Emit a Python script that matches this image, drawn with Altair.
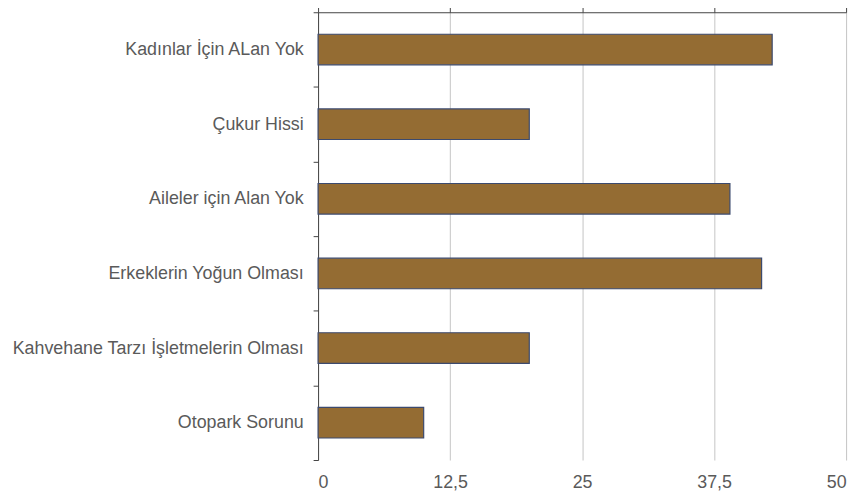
import altair as alt
import pandas as pd

categories = [
    "Kadınlar İçin ALan Yok",
    "Çukur Hissi",
    "Aileler için Alan Yok",
    "Erkeklerin Yoğun Olması",
    "Kahvehane Tarzı İşletmelerin Olması",
    "Otopark Sorunu",
]
values = [43, 20, 39, 42, 20, 10]
x_ticks = [0, 12.5, 25, 37.5, 50]

df = pd.DataFrame({"kategori": categories, "deger": values})

FONT = "Liberation Sans"
LABEL_COLOR = "#5a5a5a"

x_bottom = alt.X(
    "deger:Q",
    scale=alt.Scale(domain=[0, 50], nice=False),
    axis=alt.Axis(
        orient="bottom",
        values=x_ticks,
        title=None,
        domain=False,
        ticks=False,
        grid=True,
        gridColor="#c4c4c4",
        gridWidth=1,
        labelPadding=14,
        labelFontSize=18,
        labelColor=LABEL_COLOR,
        labelFont=FONT,
        labelExpr="replace(format(datum.value, ''), '.', ',')",
    ),
)

y_enc = alt.Y(
    "kategori:N",
    sort=categories,
    scale=alt.Scale(paddingInner=0, paddingOuter=0),
    axis=alt.Axis(
        title=None,
        domain=True,
        domainColor="#444444",
        domainWidth=1,
        ticks=True,
        tickBand="extent",
        tickColor="#444444",
        tickSize=5,
        labelPadding=10,
        labelFontSize=18,
        labelLimit=500,
        labelColor=LABEL_COLOR,
        labelFont=FONT,
        grid=False,
    ),
)

bars = alt.Chart(df).mark_bar(
    color="#946C33",
    stroke="#3C4A6E",
    strokeWidth=1.2,
    height={"band": 0.41},
).encode(x=x_bottom, y=y_enc)

top_axis = alt.Chart(df).mark_bar(opacity=0).encode(
    x=alt.X(
        "deger:Q",
        scale=alt.Scale(domain=[0, 50], nice=False),
        axis=alt.Axis(
            orient="top",
            values=x_ticks,
            title=None,
            labels=False,
            grid=False,
            domain=True,
            domainColor="#444444",
            ticks=True,
            tickColor="#444444",
            tickSize=5,
        ),
    ),
    y=alt.Y("kategori:N", sort=categories),
)

chart = (
    alt.layer(bars, top_axis)
    .properties(
        width=533,
        height=452,
        autosize=alt.AutoSizeParams(type="none"),
        padding={"left": 313, "top": 2, "right": 10, "bottom": 30},
    )
    .configure_view(stroke=None)
)

chart.save("out.html", embed_options={"renderer": "svg", "actions": False})
